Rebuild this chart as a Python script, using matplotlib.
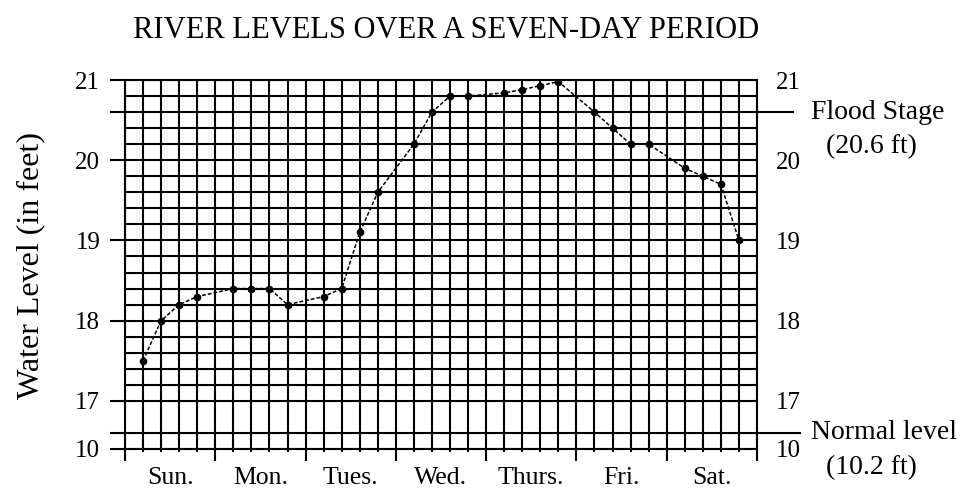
"""River levels over a seven-day period: gridded line chart with a broken
water-level axis (17 ft down to 10 ft is squeezed into two grid rows).

  python plot.py   -> out.png
"""

import numpy as np
import matplotlib
matplotlib.use("Agg")
import matplotlib.pyplot as plt
from matplotlib.transforms import ScaledTranslation, blended_transform_factory

# readings: four a day, time in days from Sunday 00:00
READ_DAY = [0.2, 0.4, 0.6, 0.8, 1.2, 1.4, 1.6, 1.8, 2.2, 2.4, 2.6, 2.8,
            3.2, 3.4, 3.6, 3.8, 4.2, 4.4, 4.6, 4.8, 5.2, 5.4, 5.6, 5.8,
            6.2, 6.4, 6.6, 6.8]
LEVEL_FT = [17.5, 18.0, 18.2, 18.3, 18.4, 18.4, 18.4, 18.2, 18.3, 18.4,
            19.1, 19.6, 20.2, 20.6, 20.8, 20.8, 20.84, 20.88, 20.93, 20.98,
            20.6, 20.4, 20.2, 20.2, 19.9, 19.8, 19.7, 19.0]

DAYS = ["Sun.", "Mon.", "Tues.", "Wed.", "Thurs.", "Fri.", "Sat."]
Y_LABELED = [10, 17, 18, 19, 20, 21]
FLOOD_STAGE = 20.6
NORMAL_LEVEL = 10.2

plt.rcParams["font.family"] = ["Liberation Serif", "DejaVu Serif"]


# broken axis: 17..21 linear, 10.2..17 squeezed into 0.4, 10..10.2 linear
def fwd(v):
    v = np.asarray(v, dtype=float)
    return np.where(v >= 17, v,
                    np.where(v >= 10.2, 16.6 + (v - 10.2) * 0.4 / 6.8, v + 6.4))


def inv(u):
    u = np.asarray(u, dtype=float)
    return np.where(u >= 17, u,
                    np.where(u >= 16.6, 10.2 + (u - 16.6) * 6.8 / 0.4, u - 6.4))


def main():
    fig = plt.figure(figsize=(9.63, 4.90), dpi=100)
    ax = fig.add_axes([0.1298, 0.0837, 0.6563, 0.7530])

    ax.set_yscale("function", functions=(fwd, inv))
    ax.set_xlim(0, len(DAYS))
    ax.set_ylim(10, 21)

    # grid: every 0.2 day and every 0.2 ft
    ax.set_xticks(np.arange(0, len(DAYS) + 1))
    ax.set_xticks(np.round(np.arange(0, len(DAYS) + 0.01, 0.2), 2), minor=True)
    ax.set_xticklabels([])
    ax.tick_params(axis="x", which="major", length=8.6, width=1.5, color="k")
    ax.tick_params(axis="x", which="minor", length=2.2, width=1.5, color="k")

    major_y = sorted(Y_LABELED + [NORMAL_LEVEL, FLOOD_STAGE])
    ax.set_yticks(major_y)
    ax.set_yticklabels([("%g" % v) if v in Y_LABELED else "" for v in major_y])
    minor_y = [v for v in np.round(np.arange(17, 21.01, 0.2), 1) if v not in major_y]
    ax.set_yticks(minor_y, minor=True)
    ax.tick_params(axis="y", which="major", left=True, right=False,
                   labelleft=True, labelright=True, length=10.8, width=1.5,
                   labelsize=18, pad=7)
    ax.tick_params(axis="y", which="minor", length=0)
    ax.grid(which="both", color="k", lw=1.5)
    for s in ax.spines.values():
        s.set_linewidth(1.5)
    ax.set_axisbelow(True)

    # right-hand numbers sit further out than the left ones (no tick there)
    right_off = ScaledTranslation(0.19, 0, fig.dpi_scale_trans)
    for t in ax.yaxis.get_major_ticks():
        t.label2.set_transform(ax.get_yaxis_transform(which="tick2") + right_off)
        t.label2.set_horizontalalignment("left")

    ax.plot(READ_DAY, LEVEL_FT, color="k", lw=1.1, ls=(0, (2.5, 1.3)),
            marker="o", ms=4.5, mec="k", mfc="k")

    # day names centred under each day
    xtr = ax.get_xaxis_transform()
    for i, d in enumerate(DAYS):
        ax.annotate(d, (i + 0.5, 0), xycoords=xtr, xytext=(0, -21),
                    textcoords="offset points", ha="center", va="center",
                    fontsize=18.5)

    # flood stage / normal level markers on the right
    btr = blended_transform_factory(ax.transAxes, ax.transData)
    for lvl, ext, name in [(FLOOD_STAGE, 0.057, "Flood Stage"),
                           (NORMAL_LEVEL, 0.068, "Normal level")]:
        ax.plot([1, 1 + ext], [lvl, lvl], color="k", lw=1.5,
                transform=btr, clip_on=False)
        ax.annotate(name, (1, lvl), xycoords=btr, xytext=(39, 0),
                    textcoords="offset points", ha="left", va="center",
                    fontsize=20)
        ax.annotate("(%g ft)" % lvl, (1, lvl), xycoords=btr, xytext=(50, -25),
                    textcoords="offset points", ha="left", va="center",
                    fontsize=20)

    fig.text(0.463, 1 - 31 / 490, "RIVER LEVELS OVER A SEVEN-DAY PERIOD",
             ha="center", va="center", fontsize=22)
    fig.text(31 / 963, 1 - 265 / 490, "Water Level (in feet)", rotation=90,
             ha="center", va="center", fontsize=23)

    fig.savefig("out.png", dpi=100)


if __name__ == "__main__":
    main()
